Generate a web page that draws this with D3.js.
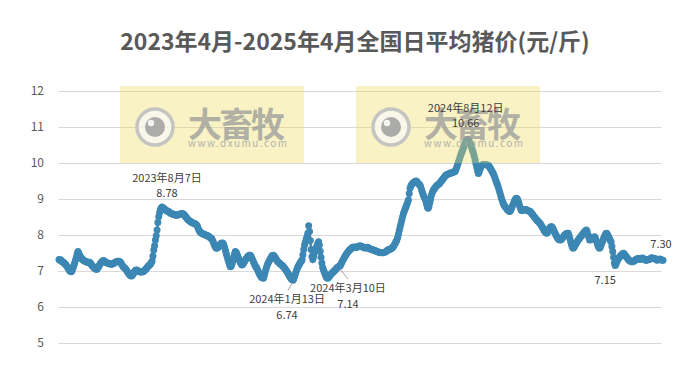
<!DOCTYPE html>
<meta charset="utf-8">
<style>
    body {
        margin: 0;
        background: #fff;
    }

    svg {
        display: block;
        font-family: "Noto Sans CJK SC", "Noto Sans", sans-serif;
    }

    .grid line {
        stroke: #d9d9d9;
        stroke-width: 1;
    }

    .tick-label {
        fill: #595959;
        font-size: 12px;
    }

    .note {
        fill: #404040;
        font-size: 11px;
    }
</style>

<body>
    <svg id="chart" width="697" height="373"></svg>
</body>

<script src="https://cdn.jsdelivr.net/npm/d3@7"></script>
<script>
    // daily average price, one value per day starting at startDate
    var startDate = "2023-04-04";
    var prices = [
        // 2023-04
        7.32, 7.30, 7.31, 7.28, 7.26, 7.25, 7.22, 7.21, 7.18, 7.15, 7.12, 7.08, 7.04, 7.01, 6.99, 6.98, 7.02, 7.08, 7.15, 7.22, 7.30, 7.38, 7.47, 7.54, 7.50, 7.44, 7.40,
        // 2023-05
        7.36, 7.33, 7.31, 7.29, 7.28, 7.27, 7.26, 7.25, 7.24, 7.23, 7.24, 7.22, 7.19, 7.16, 7.13, 7.10, 7.08, 7.06, 7.05, 7.05, 7.08, 7.12, 7.16, 7.20, 7.23, 7.26, 7.28, 7.29, 7.28, 7.26, 7.24,
        // 2023-06
        7.23, 7.22, 7.21, 7.20, 7.20, 7.19, 7.19, 7.20, 7.21, 7.22, 7.24, 7.25, 7.26, 7.27, 7.27, 7.26, 7.26, 7.23, 7.19, 7.15, 7.12, 7.10, 7.08, 7.05, 7.02, 6.98, 6.95, 6.92, 6.89, 6.87,
        // 2023-07
        6.86, 6.88, 6.92, 6.96, 7.00, 7.02, 7.03, 7.02, 7.00, 6.99, 6.98, 6.97, 6.97, 6.98, 6.98, 7.00, 7.02, 7.04, 7.07, 7.10, 7.13, 7.15, 7.17, 7.20, 7.23, 7.28, 7.42, 7.58, 7.70, 7.86, 7.98,
        // 2023-08
        8.14, 8.35, 8.51, 8.62, 8.70, 8.75, 8.78, 8.76, 8.74, 8.72, 8.70, 8.69, 8.67, 8.66, 8.65, 8.63, 8.61, 8.60, 8.59, 8.58, 8.57, 8.56, 8.56, 8.55, 8.55, 8.56, 8.56, 8.57, 8.58, 8.59, 8.59,
        // 2023-09
        8.59, 8.58, 8.56, 8.53, 8.50, 8.47, 8.44, 8.42, 8.40, 8.38, 8.37, 8.35, 8.34, 8.33, 8.32, 8.31, 8.30, 8.28, 8.24, 8.18, 8.13, 8.09, 8.07, 8.05, 8.04, 8.03, 8.02, 8.01, 8.00, 7.99,
        // 2023-10
        7.98, 7.97, 7.95, 7.94, 7.92, 7.91, 7.87, 7.82, 7.76, 7.70, 7.66, 7.63, 7.64, 7.66, 7.69, 7.72, 7.75, 7.77, 7.78, 7.77, 7.72, 7.65, 7.57, 7.48, 7.40, 7.32, 7.24, 7.17, 7.12, 7.14, 7.20,
        // 2023-11
        7.28, 7.38, 7.47, 7.54, 7.52, 7.47, 7.41, 7.35, 7.29, 7.24, 7.20, 7.17, 7.19, 7.22, 7.26, 7.30, 7.34, 7.37, 7.40, 7.42, 7.44, 7.44, 7.41, 7.36, 7.31, 7.25, 7.20, 7.15, 7.11, 7.08,
        // 2023-12
        7.03, 6.98, 6.93, 6.89, 6.85, 6.82, 6.81, 6.80, 6.86, 6.95, 7.04, 7.12, 7.18, 7.23, 7.28, 7.32, 7.36, 7.40, 7.43, 7.44, 7.42, 7.39, 7.35, 7.31, 7.28, 7.25, 7.23, 7.21, 7.19, 7.17, 7.15,
        // 2024-01
        7.13, 7.10, 7.07, 7.04, 7.01, 6.97, 6.93, 6.89, 6.85, 6.81, 6.78, 6.76, 6.74, 6.79, 6.86, 6.93, 7.00, 7.06, 7.12, 7.16, 7.20, 7.24, 7.27, 7.31, 7.45, 7.60, 7.72, 7.80, 7.88, 7.95, 8.05,
        // 2024-02
        8.26, 8.10, 7.85, 7.60, 7.40, 7.32, 7.40, 7.50, 7.58, 7.64, 7.70, 7.76, 7.81, 7.72, 7.55, 7.38, 7.22, 7.10, 7.03, 6.97, 6.91, 6.85, 6.81, 6.80, 6.82, 6.85, 6.88, 6.91, 6.94,
        // 2024-03
        6.96, 6.98, 7.00, 7.03, 7.05, 7.08, 7.10, 7.12, 7.13, 7.14, 7.18, 7.23, 7.28, 7.32, 7.36, 7.40, 7.44, 7.48, 7.51, 7.54, 7.57, 7.59, 7.61, 7.63, 7.65, 7.66, 7.67, 7.66, 7.65, 7.66, 7.67,
        // 2024-04
        7.68, 7.69, 7.70, 7.69, 7.69, 7.68, 7.66, 7.65, 7.64, 7.64, 7.65, 7.66, 7.65, 7.63, 7.62, 7.61, 7.60, 7.59, 7.58, 7.58, 7.57, 7.56, 7.55, 7.54, 7.53, 7.52, 7.52, 7.51, 7.51, 7.51,
        // 2024-05
        7.51, 7.51, 7.52, 7.53, 7.54, 7.56, 7.58, 7.59, 7.60, 7.61, 7.62, 7.63, 7.66, 7.69, 7.73, 7.77, 7.82, 7.86, 7.94, 8.03, 8.13, 8.23, 8.32, 8.42, 8.51, 8.60, 8.66, 8.72, 8.78, 8.84, 8.90,
        // 2024-06
        8.97, 9.15, 9.30, 9.36, 9.40, 9.43, 9.45, 9.47, 9.48, 9.50, 9.49, 9.46, 9.43, 9.41, 9.39, 9.33, 9.26, 9.19, 9.12, 9.06, 9.02, 8.95, 8.86, 8.78, 8.74, 8.80, 8.90, 9.00, 9.11, 9.18,
        // 2024-07
        9.23, 9.27, 9.30, 9.33, 9.36, 9.38, 9.40, 9.42, 9.44, 9.47, 9.50, 9.53, 9.56, 9.59, 9.62, 9.65, 9.67, 9.68, 9.69, 9.70, 9.71, 9.72, 9.72, 9.73, 9.74, 9.75, 9.76, 9.78, 9.83, 9.90, 9.97,
        // 2024-08
        10.04, 10.11, 10.18, 10.25, 10.31, 10.37, 10.43, 10.49, 10.55, 10.60, 10.63, 10.66, 10.63, 10.59, 10.55, 10.49, 10.41, 10.34, 10.27, 10.18, 10.08, 9.98, 9.88, 9.78, 9.71, 9.76, 9.83, 9.89, 9.94, 9.95, 9.96,
        // 2024-09
        9.96, 9.96, 9.95, 9.95, 9.94, 9.94, 9.91, 9.87, 9.83, 9.79, 9.75, 9.71, 9.65, 9.59, 9.52, 9.46, 9.40, 9.34, 9.26, 9.18, 9.10, 9.02, 8.95, 8.88, 8.84, 8.80, 8.77, 8.74, 8.71, 8.69,
        // 2024-10
        8.67, 8.65, 8.68, 8.73, 8.79, 8.85, 8.91, 8.96, 9.00, 9.02, 9.01, 8.96, 8.89, 8.81, 8.74, 8.69, 8.68, 8.69, 8.70, 8.71, 8.71, 8.70, 8.69, 8.68, 8.67, 8.66, 8.65, 8.62, 8.59, 8.56, 8.53,
        // 2024-11
        8.50, 8.47, 8.44, 8.41, 8.39, 8.37, 8.34, 8.32, 8.28, 8.24, 8.20, 8.16, 8.12, 8.08, 8.06, 8.05, 8.08, 8.13, 8.18, 8.21, 8.23, 8.23, 8.20, 8.15, 8.10, 8.05, 8.00, 7.96, 7.92, 7.89,
        // 2024-12
        7.87, 7.86, 7.87, 7.89, 7.92, 7.95, 7.98, 8.01, 8.03, 8.04, 8.05, 8.05, 7.98, 7.90, 7.81, 7.73, 7.67, 7.63, 7.66, 7.70, 7.74, 7.78, 7.82, 7.86, 7.89, 7.92, 7.95, 7.98, 8.01, 8.04, 8.07,
        // 2025-01
        8.10, 8.12, 8.14, 8.09, 8.01, 7.93, 7.86, 7.87, 7.89, 7.91, 7.93, 7.94, 7.95, 7.91, 7.85, 7.78, 7.71, 7.66, 7.63, 7.67, 7.73, 7.79, 7.85, 7.91, 7.96, 8.01, 8.05, 8.04, 8.00, 7.95, 7.90,
        // 2025-02
        7.85, 7.81, 7.68, 7.54, 7.38, 7.22, 7.15, 7.20, 7.26, 7.31, 7.35, 7.38, 7.41, 7.44, 7.46, 7.48, 7.49, 7.47, 7.44, 7.41, 7.38, 7.35, 7.32, 7.30, 7.28, 7.27, 7.26, 7.26,
        // 2025-03
        7.27, 7.28, 7.30, 7.31, 7.33, 7.34, 7.35, 7.34, 7.32, 7.33, 7.35, 7.36, 7.35, 7.33, 7.31, 7.30, 7.30, 7.31, 7.31, 7.32, 7.33, 7.35, 7.37, 7.36, 7.35, 7.35, 7.35, 7.33, 7.31, 7.30, 7.31,
        // 2025-04
        7.32, 7.33, 7.32, 7.31, 7.30, 7.30
    ];
    var yTicks = [5, 6, 7, 8, 9, 10, 11, 12];
    var noteDates = ["2023-08-07", "2024-01-13", "2024-03-10", "2024-08-12", "2025-02-07", "2025-04-06"];
    var noteLabels = ["2023年8月7日", "2024年1月13日", "2024年3月10日", "2024年8月12日", "", ""];
    var titleText = "2023年4月-2025年4月全国日平均猪价(元/斤)";
    var markName = "大畜牧",
        markUrl = "www.dxumu.com";

    // layout
    var width = 697,
        height = 373,
        gridLeft = 58,
        gridRight = 662,
        color = "#3c87b4",
        svg = d3.select("#chart");

    // label placement next to each noted point (dx, first line, second line, leader line)
    var noteOffsets = [
        { dx: 5, dy1: -25, dy2: -10 },
        { dx: -6, dy1: 23, dy2: 39, lead: [[-1, 3], [-5, 10]] },
        { dx: 8, dy1: 26, dy2: 42, lead: [[0, 3], [8, 13]] },
        { dx: -2, dy1: -27, dy2: -12 },
        { dx: -10, dy2: 18 },
        { dx: -2, dy2: -12 }
    ];

    var parse = d3.timeParse("%Y-%m-%d"),
        t0 = parse(startDate);

    var series = prices.map(function (v, i) {
        return { date: d3.timeDay.offset(t0, i), value: v };
    });

    var x = d3.scaleTime().domain(d3.extent(series, function (d) { return d.date; })).range([59, 663]),
        y = d3.scaleLinear().domain([5, 12]).range([343, 91]);

    // title
    svg.append("text")
        .attr("x", 355)
        .attr("y", 50)
        .attr("text-anchor", "middle")
        .style("font-size", "23px")
        .style("font-weight", "bold")
        .style("fill", "#595959")
        .text(titleText);

    // grid + y labels
    var grid = svg.append("g").attr("class", "grid");
    grid.selectAll("line").data(yTicks).enter().append("line")
        .attr("x1", gridLeft).attr("x2", gridRight)
        .attr("y1", function (d) { return Math.round(y(d)) + 0.5; })
        .attr("y2", function (d) { return Math.round(y(d)) + 0.5; });
    svg.selectAll(".tick-label").data(yTicks).enter().append("text")
        .attr("class", "tick-label")
        .attr("x", 44)
        .attr("y", function (d) { return y(d); })
        .attr("dy", "0.35em")
        .attr("text-anchor", "end")
        .text(function (d) { return d; });

    // series: line + markers
    var line = d3.line()
        .x(function (d) { return x(d.date); })
        .y(function (d) { return y(d.value); });

    svg.append("path")
        .datum(series)
        .attr("fill", "none")
        .attr("stroke", color)
        .attr("stroke-width", 2.5)
        .attr("d", line);

    svg.append("g").selectAll("circle").data(series).enter().append("circle")
        .attr("cx", function (d) { return x(d.date); })
        .attr("cy", function (d) { return y(d.value); })
        .attr("r", 3.5)
        .attr("fill", color);

    // watermarks
    var marks = svg.selectAll(".wm").data([{ x: 120, y: 86 }, { x: 356, y: 86 }]).enter().append("g")
        .attr("class", "wm")
        .attr("transform", function (d) { return "translate(" + d.x + "," + d.y + ")"; });
    marks.append("rect")
        .attr("width", 184).attr("height", 77)
        .attr("fill", "#ecd95a").attr("opacity", 0.35);
    marks.append("circle")
        .attr("cx", 35).attr("cy", 41).attr("r", 18)
        .attr("fill", "#f7f7f2").attr("fill-opacity", 0.8)
        .attr("stroke", "#c4c4c0").attr("stroke-width", 3.5);
    marks.append("circle")
        .attr("cx", 35).attr("cy", 41).attr("r", 10)
        .attr("fill", "#a3a3a3").attr("opacity", 0.9);
    marks.append("circle")
        .attr("cx", 31).attr("cy", 37).attr("r", 3.2)
        .attr("fill", "#fff").attr("opacity", 0.85);
    marks.append("text")
        .attr("x", 68).attr("y", 51)
        .style("font-size", "34px").style("font-weight", "bold")
        .attr("textLength", 97)
        .attr("fill", "#9a9a9a").attr("opacity", 0.75)
        .text(markName);
    marks.append("text")
        .attr("x", 68).attr("y", 61)
        .style("font-size", "10px")
        .attr("textLength", 99)
        .attr("fill", "#a8a8a8").attr("opacity", 0.85)
        .text(markUrl);

    // point notes
    var fmt = d3.format(".2f");
    noteDates.forEach(function (ds, i) {
        var dt = parse(ds),
            p = series.find(function (d) { return +d.date === +dt; }),
            px = x(p.date),
            py = y(p.value),
            o = noteOffsets[i];
        if (o.lead) {
            svg.append("line")
                .attr("x1", px + o.lead[0][0]).attr("y1", py + o.lead[0][1])
                .attr("x2", px + o.lead[1][0]).attr("y2", py + o.lead[1][1])
                .attr("stroke", "#a6a6a6").attr("stroke-width", 1);
        }
        if (noteLabels[i]) {
            svg.append("text").attr("class", "note")
                .attr("x", px + o.dx).attr("y", py + o.dy1)
                .attr("text-anchor", "middle")
                .text(noteLabels[i]);
        }
        svg.append("text").attr("class", "note")
            .attr("x", px + o.dx).attr("y", py + o.dy2)
            .attr("text-anchor", "middle")
            .text(fmt(p.value));
    });
</script>
